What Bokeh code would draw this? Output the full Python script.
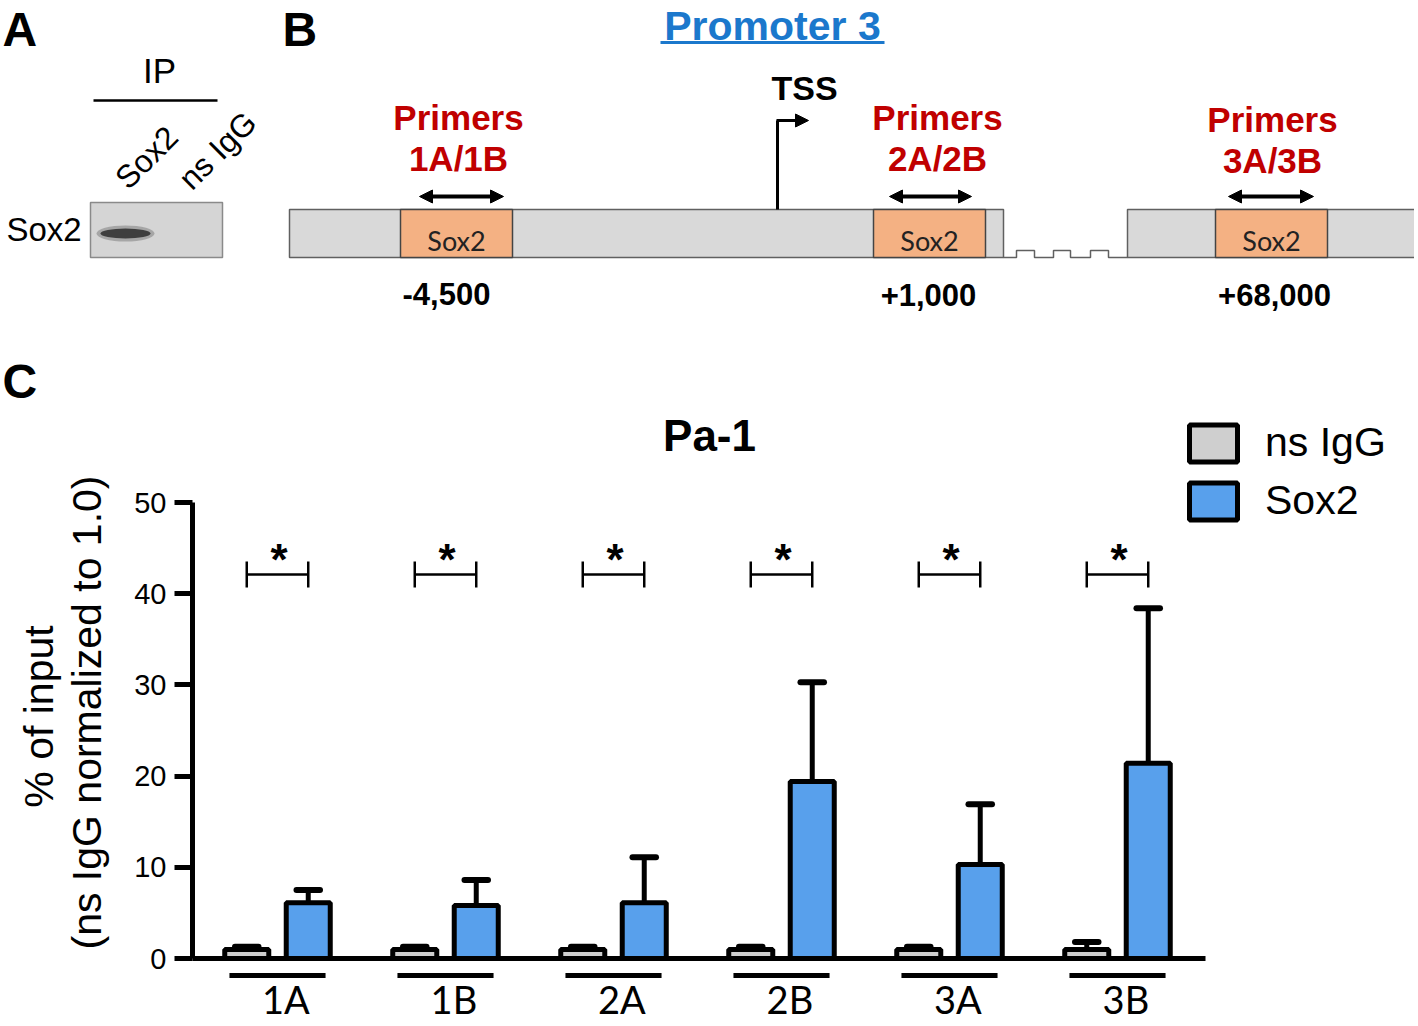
import numpy as np
from bokeh.plotting import figure
from bokeh.layouts import column
from bokeh.models import (Range1d, LinearAxis, FixedTicker, Label, Legend, LegendItem,
                          Arrow, NormalHead)
from bokeh.core.properties import value
from bokeh.embed import file_html
from bokeh.resources import INLINE

# ---------------- Panel C data ----------------
groups = ["1A", "1B", "2A", "2B", "3A", "3B"]
igg_mean = [1.0, 1.0, 1.0, 1.0, 1.0, 1.0]
igg_sd = [0.3, 0.3, 0.3, 0.3, 0.3, 0.8]
sox2_mean = [6.1, 5.8, 6.1, 19.4, 10.3, 21.4]
sox2_sd = [1.4, 2.8, 5.0, 10.9, 6.6, 17.0]
y_ticks = [0, 10, 20, 30, 40, 50]
series_labels = ["ns IgG", "Sox2"]
sig_marks = ["*", "*", "*", "*", "*", "*"]
chart_title = "Pa-1"
y_title = ["% of input", "(ns IgG normalized to 1.0)"]

# ---------------- Panel A / B texts ----------------
lane_labels = ["Sox2", "ns IgG"]
primer_names = ["1A/1B", "2A/2B", "3A/3B"]
site_positions = ["-4,500", "+1,000", "+68,000"]
site_box_label = ["Sox2", "Sox2", "Sox2"]

FONT_NAME = "Liberation Sans"
FONT = value(FONT_NAME)
FONT2 = value("Lato")
W = 1414

# ================= top figure (panels A and B), pixel-like coordinates =================
pt = figure(width=W, height=340, x_range=Range1d(0, W), y_range=Range1d(340, 0),
            output_backend="svg", toolbar_location=None,
            x_axis_location=None, y_axis_location=None,
            min_border_left=0, min_border_right=0, min_border_top=0, min_border_bottom=0)
pt.grid.grid_line_color = None
pt.outline_line_color = None

# panel letters
pt.text(x=[2, 282], y=[29, 29], text=["A", "B"], text_font=FONT, text_font_style="bold",
        text_font_size="48px", text_align="left", text_baseline="middle", text_color="black")

# ---- panel A
pt.text(x=[159], y=[70], text=["IP"], text_font=FONT, text_font_size="35px",
        text_align="center", text_baseline="middle")
pt.segment(x0=[93], y0=[100], x1=[217], y1=[100], line_width=2.5, line_color="black")
pt.text(x=[146, 217], y=[157, 150], text=lane_labels, angle=np.pi / 4, text_font=FONT,
        text_font_size="32px", text_align="center", text_baseline="middle")
pt.quad(left=[90], right=[222], top=[202], bottom=[257], fill_color="#d5d5d5",
        line_color="#8a8a8a", line_width=1.5)
pt.ellipse(x=[125], y=[233], width=[58], height=[16], fill_color="#3a3a3a",
           fill_alpha=0.3, line_color=None)
pt.ellipse(x=[125], y=[233], width=[50], height=[10], fill_color="#383838",
           fill_alpha=0.95, line_color=None)
pt.text(x=[6], y=[229], text=["Sox2"], text_font=FONT, text_font_size="33px",
        text_align="left", text_baseline="middle")

# ---- panel B
pt.text(x=[772], y=[25], text=["Promoter 3"], text_font=FONT, text_font_style="bold",
        text_font_size="41px", text_align="center", text_baseline="middle",
        text_color="#1b78cc")
pt.segment(x0=[660], y0=[42], x1=[884], y1=[42], line_width=3, line_color="#1b78cc")

pt.quad(left=[289, 1127], right=[1003, 1417], top=[209, 209], bottom=[257, 257],
        fill_color="#d9d9d9", line_color="#606060", line_width=1.5)
pt.line(x=[1003, 1016, 1016, 1034, 1034, 1053, 1053, 1070, 1070, 1090, 1090, 1108, 1108, 1127],
        y=[257, 257, 250, 250, 257, 257, 250, 250, 257, 257, 250, 250, 257, 257],
        line_color="#606060", line_width=1.5)
box_left = [400, 873, 1215]
box_right = [512, 985, 1327]
box_mid = [(a + b) / 2 for a, b in zip(box_left, box_right)]
pt.quad(left=box_left, right=box_right, top=[209] * 3, bottom=[257] * 3,
        fill_color="#f4b183", line_color="#444444", line_width=1.5)
pt.text(x=box_mid, y=[240] * 3, text=site_box_label, text_font=FONT2, text_font_size="27px",
        text_align="center", text_baseline="middle", text_color="#222222")

for xs, xe in zip([419, 889, 1228], [503, 971, 1313]):
    pt.add_layout(Arrow(x_start=xs, y_start=196, x_end=xe, y_end=196, line_width=4,
                        start=NormalHead(size=13, fill_color="black", line_color="black"),
                        end=NormalHead(size=13, fill_color="black", line_color="black")))

# TSS
pt.segment(x0=[777], y0=[209], x1=[777], y1=[120], line_width=3, line_color="black")
pt.add_layout(Arrow(x_start=776, y_start=120, x_end=808, y_end=120, line_width=3,
                    end=NormalHead(size=13, fill_color="black", line_color="black")))
pt.text(x=[804], y=[87], text=["TSS"], text_font=FONT, text_font_style="bold",
        text_font_size="34px", text_align="center", text_baseline="middle")

primer_x = [458, 937, 1272]
pt.text(x=primer_x, y=[117, 117, 119], text=["Primers"] * 3, text_font=FONT,
        text_font_style="bold", text_font_size="35px", text_align="center",
        text_baseline="middle", text_color="#c00000")
pt.text(x=primer_x, y=[158, 158, 160], text=primer_names, text_font=FONT,
        text_font_style="bold", text_font_size="35px", text_align="center",
        text_baseline="middle", text_color="#c00000")
pt.text(x=[446, 928, 1274], y=[293, 294, 294], text=site_positions, text_font=FONT,
        text_font_style="bold", text_font_size="31px", text_align="center",
        text_baseline="middle")

# ================= panel C bar chart =================
PXU = 9.12      # pixels per y unit
Y0 = 958        # pixel row of y = 0
X0 = 277        # pixel column of first group centre
GPX = 168       # pixels per group


def vy(Y):
    return (Y0 - Y) / PXU


def gx(X):
    return (X - X0) / GPX


pc = figure(width=W, height=682, x_range=Range1d(gx(0), gx(W)),
            y_range=Range1d(vy(1022), vy(340)),
            output_backend="svg", toolbar_location=None,
            x_axis_location=None, y_axis_location=None,
            min_border_left=0, min_border_right=0, min_border_top=0, min_border_bottom=0)
pc.grid.grid_line_color = None
pc.outline_line_color = None

yax = LinearAxis(bounds=(y_ticks[0], y_ticks[-1]), fixed_location=gx(192),
                 ticker=FixedTicker(ticks=y_ticks),
                 axis_line_width=5, axis_line_color="black",
                 major_tick_line_width=5, major_tick_out=18, major_tick_in=0,
                 minor_tick_line_color=None,
                 major_label_text_font=FONT_NAME, major_label_text_font_size="29px",
                 major_label_text_color="black", major_label_standoff=8)
pc.add_layout(yax, "left")

xax = LinearAxis(bounds=(gx(192), gx(1205)), fixed_location=0,
                 ticker=FixedTicker(ticks=[]), axis_line_width=5, axis_line_color="black",
                 major_tick_line_color=None, minor_tick_line_color=None,
                 major_label_text_font_size="0px")
pc.add_layout(xax, "below")

x = np.arange(len(groups))
off = 0.183
bw = 0.262
cap = 0.07
x_igg = x - off
x_sox = x + off
igg_top = [m + s for m, s in zip(igg_mean, igg_sd)]
sox_top = [m + s for m, s in zip(sox2_mean, sox2_sd)]

# error bars (upper only)
pc.segment(x0=x_igg, y0=igg_mean, x1=x_igg, y1=igg_top, line_width=5, line_color="black")
pc.segment(x0=x_igg - cap, y0=igg_top, x1=x_igg + cap, y1=igg_top, line_width=6,
           line_color="black", line_cap="round")
pc.segment(x0=x_sox, y0=sox2_mean, x1=x_sox, y1=sox_top, line_width=5, line_color="black")
pc.segment(x0=x_sox - cap, y0=sox_top, x1=x_sox + cap, y1=sox_top, line_width=6,
           line_color="black", line_cap="round")

r_igg = pc.vbar(x=x_igg, top=igg_mean, bottom=0, width=bw, fill_color="#cfcfcf",
                line_color="black", line_width=5)
r_sox = pc.vbar(x=x_sox, top=sox2_mean, bottom=0, width=bw, fill_color="#58a0ec",
                line_color="black", line_width=5)

# group underlines and labels
pc.segment(x0=x - 0.286, y0=vy(975), x1=x + 0.286, y1=vy(975), line_width=5, line_color="black")
pc.text(x=x + 0.05, y=vy(998), text=groups, text_font=FONT2, text_font_size="38px",
        text_align="center", text_baseline="middle", text_color="black")

# significance brackets
yb = vy(574)
pc.segment(x0=x_igg, y0=yb, x1=x_sox, y1=yb, line_width=2.5, line_color="black")
pc.segment(x0=np.concatenate([x_igg, x_sox]), y0=vy(587), x1=np.concatenate([x_igg, x_sox]),
           y1=vy(561), line_width=2.5, line_color="black")
pc.text(x=x + 0.01, y=vy(559), text=sig_marks, text_font=FONT, text_font_style="bold",
        text_font_size="44px", text_align="center", text_baseline="middle")

# title
pc.text(x=[gx(709)], y=[vy(435)], text=[chart_title], text_font=FONT, text_font_style="bold",
        text_font_size="44px", text_align="center", text_baseline="middle")

# legend
legend = Legend(items=[LegendItem(label=series_labels[0], renderers=[r_igg]),
                       LegendItem(label=series_labels[1], renderers=[r_sox])],
                location=(1183, 498), orientation="vertical",
                glyph_width=60, glyph_height=46, label_height=46, spacing=11,
                label_standoff=22, padding=0, margin=0,
                label_text_font=FONT_NAME, label_text_font_size="41px",
                label_text_color="black",
                background_fill_alpha=0, border_line_color=None)
pc.add_layout(legend, "center")

# panel letter and y-axis title
pc.add_layout(Label(x=gx(2), y=vy(381), text="C", text_font=FONT_NAME, text_font_style="bold",
                    text_font_size="48px", text_align="left", text_baseline="middle",
                    text_color="black"))
pc.add_layout(Label(x=gx(38), y=vy(716), text=y_title[0], angle=np.pi / 2, text_font=FONT_NAME,
                    text_font_size="41px", text_align="center", text_baseline="middle",
                    text_color="black"))
pc.add_layout(Label(x=gx(86), y=vy(712), text=y_title[1], angle=np.pi / 2, text_font=FONT_NAME,
                    text_font_size="41px", text_align="center", text_baseline="middle",
                    text_color="black"))

layout = column(pt, pc, spacing=0)
open("out.html", "w").write(file_html(layout, INLINE))
